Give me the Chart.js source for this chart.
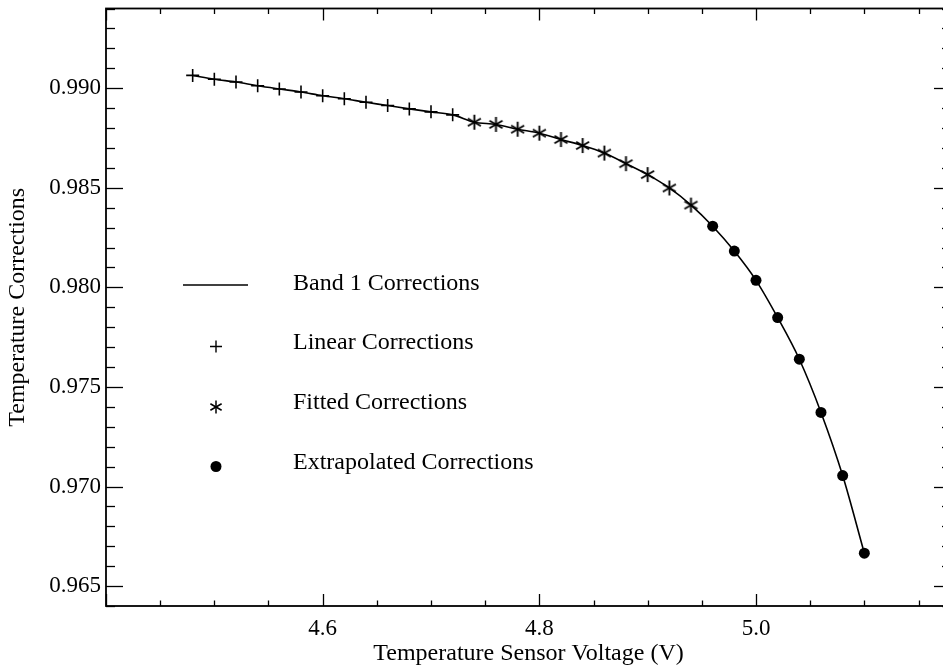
<!DOCTYPE html>
<html>
<head>
<meta charset="utf-8">
<script src="https://cdn.jsdelivr.net/npm/chart.js@4.4.0/dist/chart.umd.min.js"></script>
<style>
  html, body { margin: 0; padding: 0; background: #fff; overflow: hidden; }
  #wrap { width: 943px; height: 671px; overflow: hidden; }
</style>
</head>
<body>
<div id="wrap"><canvas id="chart" width="960" height="671"></canvas></div>
<script>
// values
const linearX = [4.48, 4.50, 4.52, 4.54, 4.56, 4.58, 4.60, 4.62, 4.64, 4.66, 4.68, 4.70, 4.72]
const linearY = [0.99064, 0.99045, 0.99031, 0.99012, 0.98996, 0.98981, 0.98962, 0.98947, 0.98929, 0.98913, 0.98896, 0.98881, 0.98866]

const fittedX = [4.74, 4.76, 4.78, 4.80, 4.82, 4.84, 4.86, 4.88, 4.90, 4.92, 4.94]
const fittedY = [0.98829, 0.98818, 0.98794, 0.98774, 0.98742, 0.98712, 0.98674, 0.98621, 0.98566, 0.98499, 0.98413]

const extrapX = [4.96, 4.98, 5.00, 5.02, 5.04, 5.06, 5.08, 5.10]
const extrapY = [0.98307, 0.98182, 0.98035, 0.97848, 0.97639, 0.97372, 0.97055, 0.96665]

const xTicks = [4.6, 4.8, 5.0]
const yTicks = [0.965, 0.970, 0.975, 0.980, 0.985, 0.990]

const legendLabels = ['Band 1 Corrections', 'Linear Corrections', 'Fitted Corrections', 'Extrapolated Corrections']

const serif = '"Liberation Serif", "Times New Roman", serif'

function toPoints (xs, ys) {
  return xs.map((x, i) => ({ x: x, y: ys[i] }))
}

function makeAsterisk (r, lw) {
  const size = Math.ceil(2 * r + 2 * lw)
  const c = document.createElement('canvas')
  c.width = size
  c.height = size
  const g = c.getContext('2d')
  g.strokeStyle = '#000'
  g.lineWidth = lw
  g.translate(size / 2, size / 2)
  for (const a of [90, 30, -30]) {
    const rad = a * Math.PI / 180
    g.beginPath()
    g.moveTo(-r * Math.cos(rad), -r * Math.sin(rad))
    g.lineTo(r * Math.cos(rad), r * Math.sin(rad))
    g.stroke()
  }
  return c
}

const asterisk = makeAsterisk(7.5, 1.9)
const smallAsterisk = makeAsterisk(6.5, 1.5)

// box with inward ticks on all four sides
const frameTicks = {
  id: 'frameTicks',
  afterDatasetsDraw (chart) {
    const { ctx, chartArea: a } = chart
    const x = chart.scales.x
    const y = chart.scales.y
    const seg = (x1, y1, x2, y2) => {
      ctx.beginPath()
      ctx.moveTo(x1, y1)
      ctx.lineTo(x2, y2)
      ctx.stroke()
    }
    ctx.save()
    ctx.strokeStyle = '#000'
    ctx.lineWidth = 1.3
    for (let k = 88; k * 0.05 <= x.max + 1e-9; k++) {
      const px = Math.round(x.getPixelForValue(k * 0.05)) + 0.5
      const len = k % 4 === 0 ? 12 : 5.5
      seg(px, a.bottom, px, a.bottom - len)
      seg(px, a.top, px, a.top + len)
    }
    for (let k = 964; k <= 994; k++) {
      const py = Math.round(y.getPixelForValue(k / 1000)) + 0.5
      const len = k % 5 === 0 ? 17 : 9
      seg(a.left, py, a.left + len, py)
      seg(a.right, py, a.right - len, py)
    }
    ctx.lineWidth = 1.8
    ctx.strokeRect(a.left, a.top, a.right - a.left, a.bottom - a.top)
    ctx.restore()
  }
}

// legend drawn inside the plot, as in the reference
const innerLegend = {
  id: 'innerLegend',
  afterDraw (chart) {
    const ctx = chart.ctx
    const rows = [283.5, 342.5, 403, 462.5]
    const mx = 216
    ctx.save()
    ctx.fillStyle = '#000'
    ctx.strokeStyle = '#000'
    ctx.font = '24px ' + serif
    ctx.textBaseline = 'middle'
    ctx.textAlign = 'left'
    chart.data.datasets.forEach((ds, i) => {
      const ty = rows[i]
      ctx.fillText(ds.label, 293, ty)
      const my = ty + 4
      if (i === 0) {
        ctx.lineWidth = 1.5
        ctx.beginPath()
        ctx.moveTo(183, ty + 1.5)
        ctx.lineTo(248, ty + 1.5)
        ctx.stroke()
      } else if (i === 1) {
        ctx.lineWidth = 1.4
        ctx.beginPath()
        ctx.moveTo(mx - 6, my)
        ctx.lineTo(mx + 6, my)
        ctx.moveTo(mx, my - 6)
        ctx.lineTo(mx, my + 6)
        ctx.stroke()
      } else if (i === 2) {
        ctx.drawImage(smallAsterisk, mx - smallAsterisk.width / 2, my - smallAsterisk.height / 2)
      } else {
        ctx.beginPath()
        ctx.arc(mx, my, 5.5, 0, Math.PI * 2)
        ctx.fill()
      }
    })
    ctx.restore()
  }
}

const allPoints = toPoints(linearX.concat(fittedX, extrapX), linearY.concat(fittedY, extrapY))

new Chart(document.getElementById('chart'), {
  type: 'scatter',
  data: {
    datasets: [{
      label: legendLabels[0],
      data: allPoints,
      showLine: true,
      borderColor: '#000',
      borderWidth: 1.6,
      pointRadius: 0,
      cubicInterpolationMode: 'monotone'
    }, {
      label: legendLabels[1],
      data: toPoints(linearX, linearY),
      pointStyle: 'cross',
      pointRadius: 6.5,
      borderColor: '#000',
      borderWidth: 1.6
    }, {
      label: legendLabels[2],
      data: toPoints(fittedX, fittedY),
      pointStyle: asterisk,
      pointRadius: 7.5
    }, {
      label: legendLabels[3],
      data: toPoints(extrapX, extrapY),
      pointStyle: 'circle',
      pointRadius: 5.5,
      backgroundColor: '#000',
      borderColor: '#000',
      borderWidth: 0
    }]
  },
  options: {
    responsive: false,
    animation: false,
    events: [],
    layout: { padding: { top: 6, right: 9, bottom: 0, left: 0 } },
    plugins: {
      legend: { display: false },
      tooltip: { enabled: false }
    },
    scales: {
      x: {
        type: 'linear',
        min: 4.4,
        max: 5.18,
        grid: { display: false, drawTicks: false },
        border: { display: false },
        afterBuildTicks: (s) => { s.ticks = xTicks.map(v => ({ value: v })) },
        afterFit: (s) => { s.height = 65; s.paddingLeft = 0; s.paddingRight = 0 },
        ticks: {
          color: '#000',
          padding: 9,
          maxRotation: 0,
          font: { family: serif, size: 23 },
          callback: (v) => Number(v).toFixed(1)
        },
        title: {
          display: true,
          text: 'Temperature Sensor Voltage (V)',
          color: '#000',
          font: { family: serif, size: 24 },
          padding: { top: 0, bottom: 3 }
        }
      },
      y: {
        type: 'linear',
        min: 0.964,
        max: 0.994,
        grid: { display: false, drawTicks: false },
        border: { display: false },
        afterBuildTicks: (s) => { s.ticks = yTicks.map(v => ({ value: v })) },
        afterFit: (s) => { s.width = 106; s.paddingTop = 0; s.paddingBottom = 0 },
        ticks: {
          color: '#000',
          padding: 5,
          font: { family: serif, size: 23 },
          callback: (v) => Number(v).toFixed(3)
        },
        title: {
          display: true,
          text: 'Temperature Corrections',
          color: '#000',
          font: { family: serif, size: 24 },
          padding: { top: 3, bottom: 0 }
        }
      }
    }
  },
  plugins: [frameTicks, innerLegend]
})
</script>
</body>
</html>
